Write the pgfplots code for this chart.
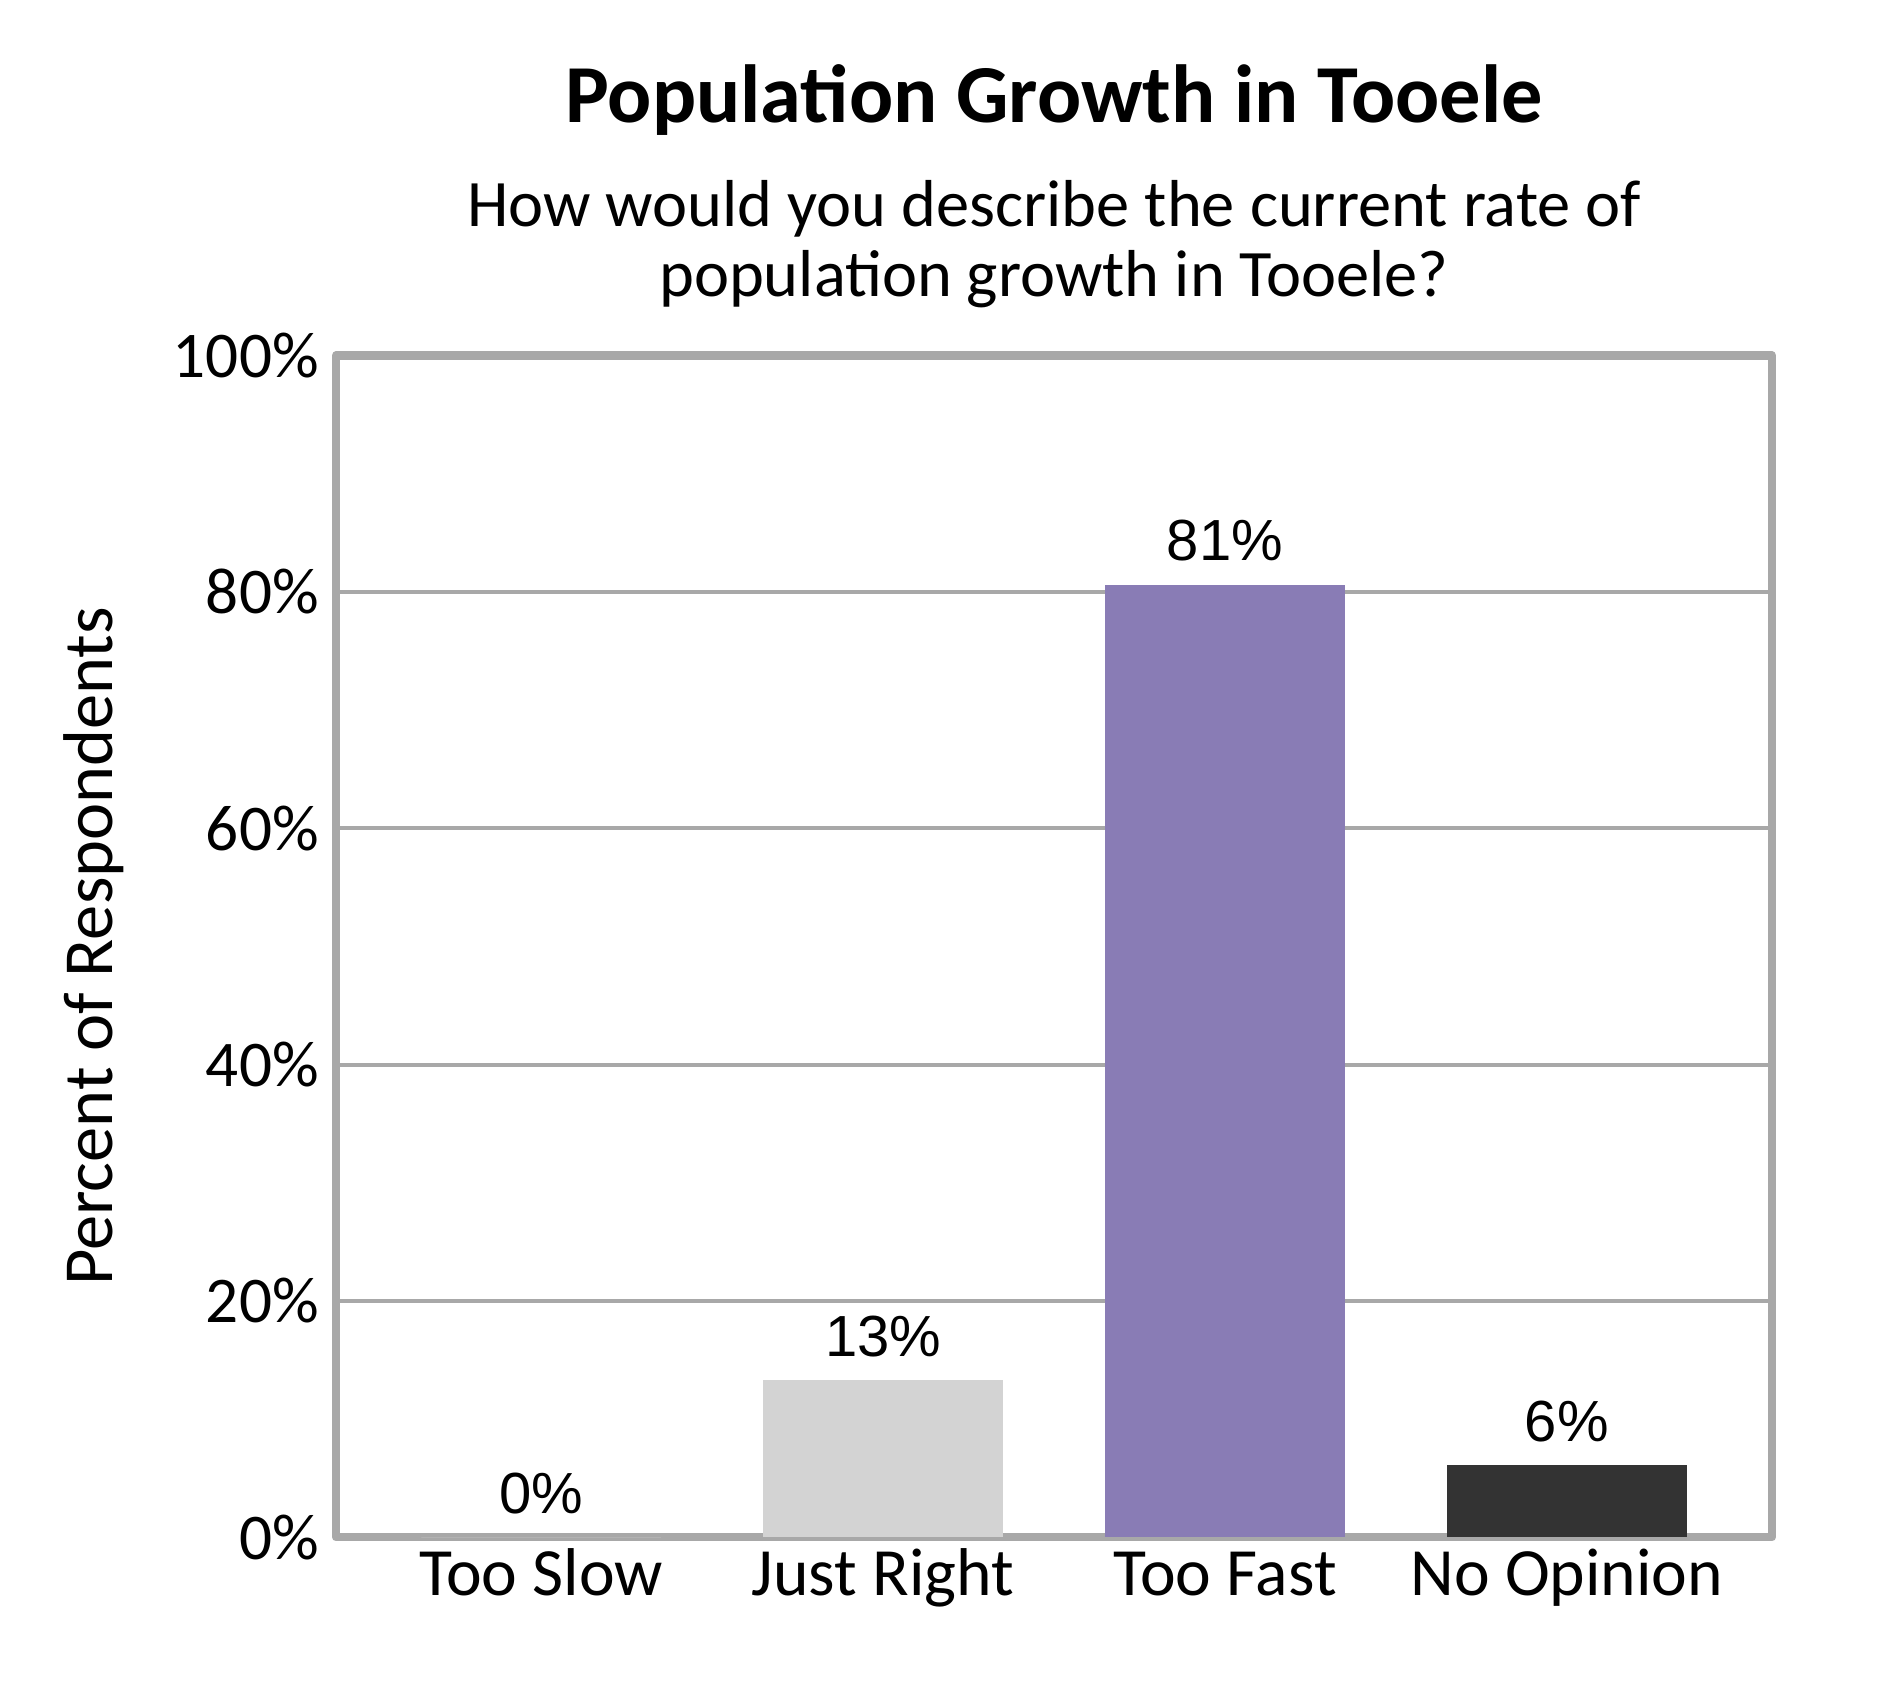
\documentclass[border=0pt]{standalone}
\usepackage{pgfplots}
\pgfplotsset{compat=1.18}
\usepackage{fontspec}
\setmainfont{Carlito}
\newfontfamily\arial{Liberation Sans}
\definecolor{axgray}{RGB}{168,168,168}
\definecolor{lightbar}{RGB}{211,211,211}
\definecolor{purplebar}{RGB}{137,124,181}
\definecolor{darkbar}{RGB}{51,51,51}
\begin{document}
\begin{tikzpicture}
\path[use as bounding box] (-84pt,-35.75pt) rectangle (388.5pt,384.3pt);
\begin{axis}[
  at={(0,0)}, anchor=south west,
  scale only axis, width=359pt, height=295.4pt,
  xmin=-0.6, xmax=3.6, ymin=0, ymax=100,
  clip=false,
  ytick={0,20,40,60,80,100},
  yticklabel={\pgfmathprintnumber{\tick}\%},
  xtick={0,1,2,3},
  xticklabels={Too Slow, Just Right, Too Fast, No Opinion},
  major tick length=0pt,
  axis line style={draw=axgray, line width=2.1pt, line join=round},
  ymajorgrids, grid style={draw=axgray, line width=1pt},
  yticklabel style={font=\fontsize{16.3}{19}\selectfont, xshift=-0.8pt},
  xticklabel style={font=\fontsize{16.9}{20}\selectfont, anchor=base, yshift=-14.5pt},
  /pgf/number format/assume math mode=true,
  ybar, bar width=0.7, bar shift=0pt,
  point meta=explicit symbolic,
  nodes near coords,
  every node near coord/.append style={font=\arial\fontsize{14.5}{16}\selectfont, anchor=center, yshift=11pt, fill=white, inner sep=3pt, text=black},
]
\addplot[draw=none, fill=white] coordinates {(0,0) [0\%]};
\addplot[draw=none, fill=lightbar] coordinates {(1,13.3) [13\%]};
\addplot[draw=none, fill=purplebar] coordinates {(2,80.6) [81\%]};
\addplot[draw=none, fill=darkbar] coordinates {(3,6.1) [6\%]};
\node[anchor=base, font=\bfseries\fontsize{20.6}{24}\selectfont] at (rel axis cs:0.5,1) [yshift=58.3pt] {Population Growth in Tooele};
\node[anchor=base, font=\fontsize{16.6}{19}\selectfont] at (rel axis cs:0.5,1) [yshift=32.2pt] {How would you describe the current rate of};
\node[anchor=base, font=\fontsize{16.6}{19}\selectfont] at (rel axis cs:0.5,1) [yshift=14.8pt] {population growth in Tooele?};
\node[rotate=90, font=\fontsize{17.6}{20}\selectfont] at (rel axis cs:-0.1685,0.5) {Percent of Respondents};
\end{axis}
\end{tikzpicture}
\end{document}
